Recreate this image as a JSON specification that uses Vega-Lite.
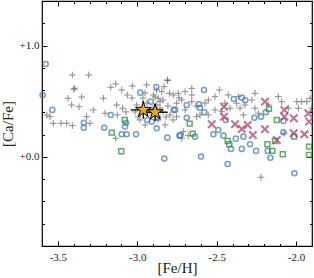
{
  "$schema": "https://vega.github.io/schema/vega-lite/v6.json",
  "width": 270,
  "height": 245,
  "autosize": "none",
  "padding": {"left": 42, "top": 1, "right": 2, "bottom": 32},
  "background": "white",
  "config": {
    "view": {"stroke": "black", "strokeWidth": 1.2},
    "axis": {"domain": false, "grid": false, "labelFont": "Liberation Serif", "titleFont": "Liberation Serif", "labelFontSize": 11, "titleFontSize": 15, "titleFontWeight": "normal", "labelColor": "#222", "titleColor": "#222", "tickColor": "black", "tickWidth": 1}
  },
  "datasets": {
    "plus": [
      {"x":-3.409,"y":0.736},{"x":-3.306,"y":0.736},{"x":-3.394,"y":0.616},{"x":-3.400,"y":0.607},{"x":-3.436,"y":0.527},{"x":-3.350,"y":0.538},{"x":-3.413,"y":0.466},{"x":-3.367,"y":0.451},{"x":-3.277,"y":0.422},{"x":-3.570,"y":0.377},{"x":-3.550,"y":0.361},{"x":-3.529,"y":0.302},{"x":-3.480,"y":0.302},{"x":-3.444,"y":0.302},{"x":-3.409,"y":0.281},{"x":-3.298,"y":0.302},{"x":-3.319,"y":0.361},{"x":-3.214,"y":0.527},{"x":-3.167,"y":0.625},{"x":-3.136,"y":0.655},{"x":-3.098,"y":0.601},{"x":-3.031,"y":0.637},{"x":-2.941,"y":0.646},{"x":-2.811,"y":0.691},{"x":-2.832,"y":0.631},{"x":-3.063,"y":0.556},{"x":-3.033,"y":0.529},{"x":-3.130,"y":0.466},{"x":-3.092,"y":0.437},{"x":-3.203,"y":0.392},{"x":-3.126,"y":0.377},{"x":-3.004,"y":0.466},{"x":-2.899,"y":0.556},{"x":-2.888,"y":0.538},{"x":-2.868,"y":0.527},{"x":-2.857,"y":0.496},{"x":-2.838,"y":0.511},{"x":-2.876,"y":0.466},{"x":-2.907,"y":0.439},{"x":-2.857,"y":0.439},{"x":-2.798,"y":0.571},{"x":-2.773,"y":0.556},{"x":-2.752,"y":0.482},{"x":-3.136,"y":0.167},{"x":-2.878,"y":0.601},{"x":-2.846,"y":0.586},{"x":-2.983,"y":0.332},{"x":-2.951,"y":0.287},{"x":-3.014,"y":0.404},{"x":-3.071,"y":0.404},{"x":-2.819,"y":0.359},{"x":-2.964,"y":0.529},{"x":-2.939,"y":0.484},{"x":-2.920,"y":0.404},{"x":-2.838,"y":0.404},{"x":-2.807,"y":0.457},{"x":-2.794,"y":0.377},{"x":-2.995,"y":0.359},{"x":-2.870,"y":0.332},{"x":-2.825,"y":0.287},{"x":-2.775,"y":0.332},{"x":-2.951,"y":0.574},{"x":-2.657,"y":0.616},{"x":-2.699,"y":0.586},{"x":-2.742,"y":0.571},{"x":-2.657,"y":0.556},{"x":-2.483,"y":0.601},{"x":-2.720,"y":0.511},{"x":-2.657,"y":0.496},{"x":-2.553,"y":0.511},{"x":-2.511,"y":0.541},{"x":-2.427,"y":0.556},{"x":-2.259,"y":0.571},{"x":-2.279,"y":0.511},{"x":-2.322,"y":0.466},{"x":-2.374,"y":0.482},{"x":-2.416,"y":0.437},{"x":-2.468,"y":0.406},{"x":-2.511,"y":0.422},{"x":-2.553,"y":0.377},{"x":-2.626,"y":0.361},{"x":-2.752,"y":0.361},{"x":-2.259,"y":0.437},{"x":-2.238,"y":0.392},{"x":-2.332,"y":0.377},{"x":-2.091,"y":0.496},{"x":-2.049,"y":0.437},{"x":-1.996,"y":0.496},{"x":-1.965,"y":0.496},{"x":-1.933,"y":0.496},{"x":-1.912,"y":0.527},{"x":-1.902,"y":0.437},{"x":-1.986,"y":0.437},{"x":-2.720,"y":0.167},{"x":-2.221,"y":-0.183},{"x":-2.175,"y":0.466},{"x":-2.112,"y":0.541},{"x":-2.808,"y":0.685},{"x":-2.630,"y":0.457},{"x":-2.574,"y":0.484},{"x":-2.448,"y":0.484},{"x":-2.353,"y":0.439},{"x":-2.605,"y":0.377},{"x":-2.699,"y":0.422},{"x":-2.737,"y":0.529},{"x":-2.679,"y":0.191},{"x":-2.710,"y":0.227},{"x":-2.076,"y":0.212},{"x":-2.364,"y":0.541}
    ],
    "circle": [
      {"x":-3.577,"y":0.834},{"x":-3.596,"y":0.556},{"x":-3.535,"y":0.422},{"x":-3.337,"y":0.307},{"x":-3.337,"y":0.262},{"x":-3.208,"y":0.262},{"x":-3.167,"y":0.377},{"x":-2.981,"y":0.577},{"x":-2.880,"y":0.628},{"x":-2.915,"y":0.496},{"x":-3.077,"y":0.272},{"x":-3.071,"y":0.307},{"x":-3.098,"y":0.204},{"x":-3.067,"y":0.204},{"x":-3.008,"y":0.204},{"x":-2.937,"y":0.332},{"x":-2.909,"y":0.316},{"x":-2.878,"y":0.257},{"x":-2.811,"y":0.173},{"x":-2.830,"y":-0.015},{"x":-2.771,"y":0.422},{"x":-2.735,"y":0.191},{"x":-2.870,"y":0.352},
      {"x":-2.580,"y":0.601},{"x":-2.689,"y":0.466},{"x":-2.611,"y":0.473},{"x":-2.605,"y":0.442},{"x":-2.762,"y":0.422},{"x":-2.689,"y":0.352},{"x":-2.578,"y":0.401},{"x":-2.443,"y":0.332},{"x":-2.393,"y":0.520},{"x":-2.342,"y":0.532},{"x":-2.320,"y":0.509},{"x":-2.729,"y":0.194},{"x":-2.637,"y":0.182},{"x":-2.521,"y":0.203},{"x":-2.490,"y":0.242},{"x":-2.458,"y":0.191},{"x":-2.599,"y":0.003},{"x":-2.410,"y":0.072},{"x":-2.380,"y":0.164},{"x":-2.332,"y":0.182},{"x":-2.342,"y":0.072},{"x":-2.290,"y":0.114},{"x":-2.252,"y":0.054},{"x":-2.431,"y":-0.063},{"x":-2.263,"y":0.352},{"x":-2.221,"y":0.361},{"x":-2.191,"y":0.401},{"x":-2.179,"y":0.054},{"x":-2.162,"y":-0.007},{"x":-2.080,"y":0.323},{"x":-2.080,"y":0.221},{"x":-2.011,"y":-0.147}
    ],
    "square": [
      {"x":-3.079,"y":0.332},{"x":-3.161,"y":0.218},{"x":-3.101,"y":0.051},{"x":-2.670,"y":0.299},{"x":-2.651,"y":0.209},{"x":-2.431,"y":0.143},{"x":-2.421,"y":0.114},{"x":-2.171,"y":0.431},{"x":-2.122,"y":0.332},{"x":-2.181,"y":0.114},{"x":-2.150,"y":0.054},{"x":-2.133,"y":0.143},{"x":-2.084,"y":0.024},{"x":-2.013,"y":0.182},{"x":-1.919,"y":0.092},{"x":-1.919,"y":0.018}
    ],
    "xmark": [
      {"x":-2.454,"y":0.451},{"x":-2.454,"y":0.361},{"x":-2.531,"y":0.293},{"x":-2.385,"y":0.293},{"x":-2.342,"y":0.251},{"x":-2.305,"y":0.287},{"x":-2.273,"y":0.197},{"x":-2.196,"y":0.496},{"x":-2.196,"y":0.248},{"x":-2.122,"y":0.152},{"x":-2.074,"y":0.422},{"x":-2.074,"y":0.361},{"x":-2.015,"y":0.347},{"x":-2.015,"y":0.212},{"x":-1.948,"y":0.203},{"x":-1.923,"y":0.392},{"x":-1.919,"y":0.317}
    ],
    "star": [
      {"x":-2.962,"y":0.422,"xlo":-3.042,"xhi":-2.882,"ylo":0.342,"yhi":0.502},
      {"x":-2.888,"y":0.401,"xlo":-2.968,"xhi":-2.808,"ylo":0.321,"yhi":0.481}
    ]
  },
  "layer": [
    {
      "data": {"name": "plus"},
      "mark": {"type": "point", "shape": "M-1,0L1,0M0,-1L0,1", "filled": false, "stroke": "#5a5a5a", "strokeWidth": 1, "opacity": 0.7, "size": 44},
      "encoding": {
        "x": {"field": "x", "type": "quantitative", "scale": {"domain": [-3.6, -1.9], "nice": false, "zero": false},
          "axis": {"orient": "bottom", "title": "[Fe/H]", "titlePadding": -2, "values": [-3.5,-3.4,-3.3,-3.2,-3.1,-3.0,-2.9,-2.8,-2.7,-2.6,-2.5,-2.4,-2.3,-2.2,-2.1,-2.0],
            "tickSize": {"condition": {"test": "abs(round(datum.value*10)%5)==0", "value": -5}, "value": -2.5},
            "labelPadding": 10,
            "labelExpr": "abs(round(datum.value*10)%5)==0 ? (datum.value<0?'-':'') + format(abs(datum.value),'.1f') : ''"}},
        "y": {"field": "y", "type": "quantitative", "scale": {"domain": [-0.8, 1.4], "nice": false, "zero": false},
          "axis": {"orient": "left", "title": "[Ca/Fe]", "titlePadding": 4, "values": [-0.6,-0.4,-0.2,0,0.2,0.4,0.6,0.8,1.0,1.2],
            "tickSize": {"condition": {"test": "datum.value==0 || datum.value==1", "value": -5}, "value": -2.5},
            "labelPadding": 8,
            "labelExpr": "datum.value==0 ? '+0.0' : datum.value==1 ? '+1.0' : ''"}}
      }
    },
    {
      "data": {"name": "circle"},
      "mark": {"type": "point", "shape": "circle", "filled": false, "stroke": "#3D74B5", "strokeWidth": 1.5, "size": 26},
      "encoding": {
        "x": {"field": "x", "type": "quantitative", "scale": {"domain": [-3.6, -1.9], "nice": false, "zero": false},
          "axis": {"orient": "top", "title": null, "labels": false, "values": [-3.5,-3.4,-3.3,-3.2,-3.1,-3.0,-2.9,-2.8,-2.7,-2.6,-2.5,-2.4,-2.3,-2.2,-2.1,-2.0],
            "tickSize": {"condition": {"test": "abs(round(datum.value*10)%5)==0", "value": -5}, "value": -2.5}}},
        "y": {"field": "y", "type": "quantitative", "scale": {"domain": [-0.8, 1.4], "nice": false, "zero": false},
          "axis": {"orient": "right", "title": null, "labels": false, "values": [-0.6,-0.4,-0.2,0,0.2,0.4,0.6,0.8,1.0,1.2],
            "tickSize": {"condition": {"test": "datum.value==0 || datum.value==1", "value": -5}, "value": -2.5}}}
      }
    },
    {
      "data": {"name": "square"},
      "mark": {"type": "point", "shape": "square", "filled": false, "stroke": "#228833", "strokeWidth": 1.5, "size": 24},
      "encoding": {
        "x": {"field": "x", "type": "quantitative", "axis": null},
        "y": {"field": "y", "type": "quantitative", "axis": null}
      }
    },
    {
      "data": {"name": "xmark"},
      "mark": {"type": "point", "shape": "M-1,-1L1,1M1,-1L-1,1", "filled": false, "stroke": "#AA3366", "strokeWidth": 2, "size": 56},
      "encoding": {
        "x": {"field": "x", "type": "quantitative", "axis": null},
        "y": {"field": "y", "type": "quantitative", "axis": null}
      }
    },
    {
      "data": {"name": "star"},
      "mark": {"type": "rule", "color": "black", "strokeWidth": 1.3},
      "encoding": {
        "x": {"field": "xlo", "type": "quantitative", "axis": null},
        "x2": {"field": "xhi"},
        "y": {"field": "y", "type": "quantitative", "axis": null}
      }
    },
    {
      "data": {"name": "star"},
      "mark": {"type": "rule", "color": "black", "strokeWidth": 1.3},
      "encoding": {
        "x": {"field": "x", "type": "quantitative", "axis": null},
        "y": {"field": "ylo", "type": "quantitative", "axis": null},
        "y2": {"field": "yhi"}
      }
    },
    {
      "data": {"name": "star"},
      "mark": {"type": "point", "shape": "M0,-1L0.225,-0.309L0.951,-0.309L0.363,0.118L0.588,0.809L0,0.382L-0.588,0.809L-0.363,0.118L-0.951,-0.309L-0.225,-0.309Z", "filled": true, "fill": "#E8A823", "stroke": "black", "strokeWidth": 1, "opacity": 1, "size": 270},
      "encoding": {
        "x": {"field": "x", "type": "quantitative", "axis": null},
        "y": {"field": "y", "type": "quantitative", "axis": null}
      }
    }
  ],
  "resolve": {"axis": {"x": "independent", "y": "independent"}}
}
